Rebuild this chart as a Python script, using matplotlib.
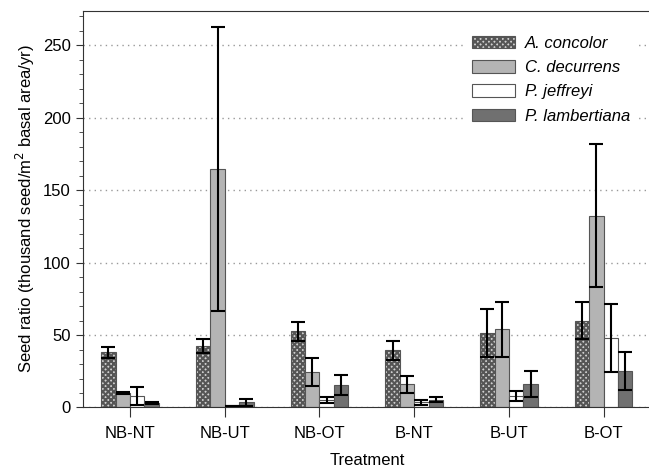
import numpy as np
import matplotlib.pyplot as plt
from matplotlib.ticker import MultipleLocator

plt.rcParams['font.family'] = ['Liberation Sans', 'DejaVu Sans']
plt.rcParams['hatch.color'] = '#2a2a2a'
plt.rcParams['hatch.linewidth'] = 1.5

treatments = ["NB-NT", "NB-UT", "NB-OT", "B-NT", "B-UT", "B-OT"]
species = ["A. concolor", "C. decurrens", "P. jeffreyi", "P. lambertiana"]

concolor = [38, 42.5, 52.5, 39.5, 51.5, 60]
concolor_err = [4, 5, 6.5, 6.5, 16.5, 13]
decurrens = [10, 164.5, 24.5, 16, 54, 132.5]
decurrens_err = [0.7, 98, 10, 6, 19, 49.5]
jeffreyi = [8, 1, 5, 3.5, 8, 48]
jeffreyi_err = [6, 0.2, 2, 1.5, 3.5, 23.5]
lambertiana = [3, 3.5, 15.5, 5.5, 16, 25]
lambertiana_err = [0.6, 2.5, 7, 1.7, 9, 13]

means = [concolor, decurrens, jeffreyi, lambertiana]
errs = [concolor_err, decurrens_err, jeffreyi_err, lambertiana_err]
faces = ['#d0d0d0', '#b4b4b4', '#ffffff', '#707070']
hatches = ['xxxxxx', None, None, None]

fig = plt.figure(figsize=(6.49, 4.72), dpi=100)
ax = fig.add_axes([0.1274, 0.1367, 0.8757, 0.8407])

x = np.arange(len(treatments))
w = 0.152
for i in range(4):
    pos = x + (i - 1.5) * w
    ax.bar(pos, means[i], w, color=faces[i], edgecolor='#555555', linewidth=0.8,
           hatch=hatches[i], label=species[i], zorder=2)
    ax.errorbar(pos, means[i], yerr=errs[i], fmt='none', ecolor='black',
                elinewidth=1.5, capsize=5, capthick=1.5, zorder=3)

ax.set_xlim(-0.5, 5.5)
ax.set_ylim(0, 274)
ax.set_xticks(x)
ax.set_xticklabels(treatments, fontsize=12)
ax.yaxis.set_major_locator(MultipleLocator(50))
ax.yaxis.set_minor_locator(MultipleLocator(10))
ax.tick_params(axis='y', which='major', length=5, labelsize=12, color='#333333')
ax.tick_params(axis='y', which='minor', length=3, color='#333333')
ax.tick_params(axis='x', length=7, labelsize=12, pad=6, color='#333333')
ax.grid(axis='y', linestyle=(0, (1, 3)), color='#999999', linewidth=1.0, zorder=0)
ax.set_axisbelow(True)
for s in ['left', 'bottom', 'top']:
    ax.spines[s].set_color('#333333')
ax.spines['right'].set_visible(False)

ax.set_ylabel(r'Seed ratio (thousand seed/m$^{2}$ basal area/yr)', fontsize=12)
ax.set_xlabel('Treatment', fontsize=12, labelpad=9)

leg = ax.legend(loc='upper right', bbox_to_anchor=(0.99, 0.975), frameon=True,
                fancybox=False, edgecolor='white', framealpha=1.0,
                prop={'style': 'italic', 'size': 12}, handlelength=2.6,
                handleheight=0.8, handletextpad=0.6, labelspacing=0.55)

fig.savefig('out.png', dpi=100)
